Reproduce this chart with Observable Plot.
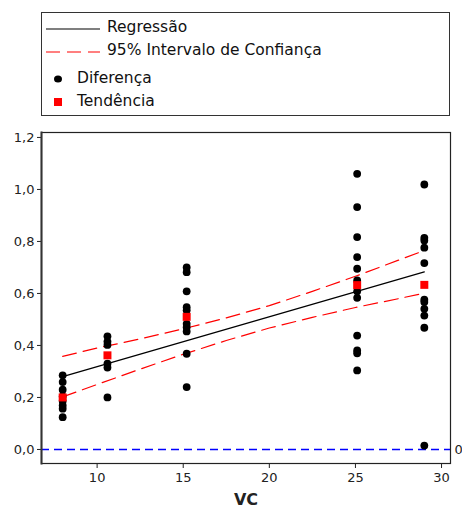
<!DOCTYPE html>
<html><head><meta charset="utf-8">
<script src="https://cdn.jsdelivr.net/npm/d3@7"></script>
<script src="https://cdn.jsdelivr.net/npm/@observablehq/plot@0.6"></script>
<style>
html,body{margin:0;padding:0;background:#fff;overflow:hidden;}
#wrap{position:relative;width:462px;height:507px;font-family:"DejaVu Sans",Verdana,sans-serif;}
#chart{position:absolute;left:0;top:0;}
#legend{position:absolute;left:41px;top:12px;width:407px;height:102px;border:1.5px solid #333;background:#fff;font-size:15.5px;color:#111;}
.item{position:absolute;white-space:nowrap;line-height:1;}
.sw{position:absolute;}
g[aria-label="x-axis label"] text{font-weight:bold;font-size:16px;}
</style></head><body>
<div id="wrap"><div id="chart"></div><div id="legend"></div></div>
<script>
// Group x positions (VC)
const groupX = [8, 10.6, 15.2, 25.1, 29];
// Diferença values per group
const difG1 = [0.285, 0.259, 0.230, 0.204, 0.186, 0.169, 0.157, 0.124];
const difG2 = [0.435, 0.415, 0.402, 0.33, 0.315, 0.20];
const difG3 = [0.70, 0.682, 0.608, 0.547, 0.535, 0.483, 0.47, 0.454, 0.368, 0.24];
const difG4 = [1.06, 0.932, 0.817, 0.74, 0.695, 0.65, 0.608, 0.583, 0.438, 0.381, 0.37, 0.304];
const difG5 = [1.019, 0.814, 0.804, 0.776, 0.717, 0.576, 0.567, 0.541, 0.515, 0.468, 0.015];
// Tendência (group mean)
const tendencia = [0.20, 0.362, 0.51, 0.632, 0.633];
// Regression line
const regX = [8, 29];
const regY = [0.28, 0.683];
// 95% confidence interval
const ciX = [8, 10, 12.5, 15, 17.5, 20, 22.5, 25, 27.5, 29];
const ciUpper = [0.358, 0.390, 0.425, 0.464, 0.506, 0.553, 0.608, 0.666, 0.728, 0.765];
const ciLower = [0.202, 0.250, 0.309, 0.366, 0.419, 0.467, 0.508, 0.546, 0.580, 0.601];
const yTicks = [0, 0.2, 0.4, 0.6, 0.8, 1.0, 1.2];
const xTicks = [10, 15, 20, 25, 30];

const difGroups = [difG1, difG2, difG3, difG4, difG5];
const dots = difGroups.flatMap((g, i) => g.map(v => ({x: groupX[i], y: v})));
const means = groupX.map((x, i) => ({x, y: tendencia[i]}));
const reg = regX.map((x, i) => ({x, y: regY[i]}));
const up = ciX.map((x, i) => ({x, y: ciUpper[i]}));
const lo = ciX.map((x, i) => ({x, y: ciLower[i]}));
const fmt = d => d.toFixed(1).replace(".", ",");

const chart = Plot.plot({
  width: 462, height: 507,
  marginTop: 132, marginBottom: 44, marginLeft: 41, marginRight: 12,
  style: {fontFamily: '"DejaVu Sans", Verdana, sans-serif', fontSize: "13px", color: "#222", background: "#fff"},
  x: {domain: [6.77, 30.52]},
  y: {domain: [-0.054, 1.219]},
  marks: [
    Plot.ruleY([0], {stroke: "#0000ff", strokeDasharray: "8,5", strokeWidth: 1.5}),
    Plot.line(up, {x: "x", y: "y", stroke: "#ff0000", strokeWidth: 1.2, strokeDasharray: "14,7", curve: "linear"}),
    Plot.line(lo, {x: "x", y: "y", stroke: "#ff0000", strokeWidth: 1.2, strokeDasharray: "14,7", curve: "linear"}),
    Plot.line(reg, {x: "x", y: "y", stroke: "#000", strokeWidth: 1.2}),
    Plot.dot(dots, {x: "x", y: "y", r: 3.9, fill: "#000", stroke: "none"}),
    Plot.dot(means, {x: "x", y: "y", symbol: "square", r: 4.5, fill: "#ff0000", stroke: "none"}),
    Plot.axisY({ticks: yTicks, tickFormat: fmt, tickSize: 4, tickPadding: 3, label: null}),
    Plot.axisY({anchor: "right", ticks: [0], tickFormat: () => "0", tickSize: 0, tickPadding: 4, label: null}),
    Plot.axisX({ticks: xTicks, tickSize: 5, tickPadding: 4, label: "VC", labelAnchor: "center", labelArrow: "none", labelOffset: 41}),
    Plot.frame({stroke: "#222", strokeWidth: 1.2}),
    Plot.frame({anchor: "left", stroke: "#333", strokeWidth: 2})
  ]
});
document.getElementById("chart").appendChild(chart);

// Legend (HTML)
const legend = document.getElementById("legend");
const items = [
  {label: "Regressão", sw: '<svg width="54" height="4"><line x1="0" y1="2" x2="54" y2="2" stroke="#000" stroke-width="1.2"/></svg>', swL: 4, txtL: 65, top: 15},
  {label: "95% Intervalo de Confiança", sw: '<svg width="54" height="4"><line x1="0" y1="2" x2="54" y2="2" stroke="#ff0000" stroke-width="1.2" stroke-dasharray="14,7"/></svg>', swL: 4, txtL: 65, top: 38},
  {label: "Diferença", sw: '<svg width="10" height="10"><ellipse cx="5" cy="5" rx="4" ry="3.5" fill="#000"/></svg>', swL: 11, txtL: 35, top: 66},
  {label: "Tendência", sw: '<svg width="10" height="10"><rect x="1" y="1" width="8" height="8" fill="#ff0000"/></svg>', swL: 11, txtL: 35, top: 89}
];
for (const it of items) {
  const s = document.createElement("div");
  s.className = "sw";
  s.innerHTML = it.sw;
  s.style.left = it.swL + "px";
  const h = it.swL === 4 ? 4 : 10;
  s.style.top = (it.top - h / 2) + "px";
  s.style.height = h + "px";
  s.style.lineHeight = "0";
  legend.appendChild(s);
  const t = document.createElement("div");
  t.className = "item";
  t.textContent = it.label;
  t.style.left = it.txtL + "px";
  t.style.top = (it.top - 8) + "px";
  legend.appendChild(t);
}
</script>
</body></html>
